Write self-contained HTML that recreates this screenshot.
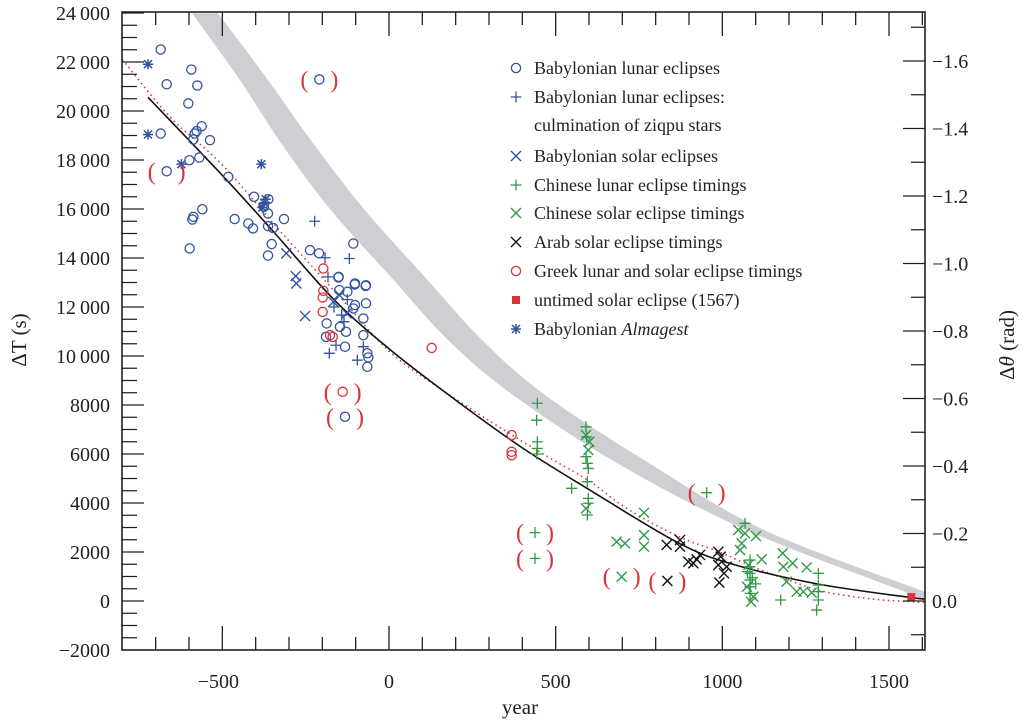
<!DOCTYPE html>
<html><head><meta charset="utf-8"><style>
html,body{margin:0;padding:0;background:#fff;width:1024px;height:720px;overflow:hidden}
svg text{font-family:"Liberation Serif",serif;}
</style></head><body>
<svg id="chart" width="1024" height="720" xmlns="http://www.w3.org/2000/svg">
<defs><clipPath id="clip"><rect x="122" y="12" width="803" height="638"/></clipPath></defs>
<g id="band" clip-path="url(#clip)"></g>
<g id="curves" clip-path="url(#clip)"></g>
<g id="marks"></g>
<g id="axes"></g>
<g id="legend"></g>
</svg>
<script>
// ---- data ----
const babLunarYears=[-685,-593,-667,-575,-602,-562,-577,-583,-685,-537,-587,-599,-569,-482,-405,-362,-375,-363,-560,-587,-590,-463,-422,-408,-363,-348,-315,-598,-352,-363,-237,-210,-107,-151,-103,-70,-152,-102,-69,-149,-125,-102,-69,-107,-77,-187,-147,-129,-189,-77,-132,-65,-62,-65];
const babLunarValues=[22510,21690,21090,21040,20310,19380,19180,19080,19080,18810,18840,17990,18100,17310,16500,16400,16090,15820,15990,15680,15570,15590,15410,15210,15300,15230,15590,14390,14570,14100,14320,14190,14590,13230,12920,12860,13210,12960,12890,12690,12620,12080,12150,11940,11530,11330,11190,10990,10780,10850,10380,10110,9940,9560];
const ziqpuYears=[-223,-119,-192,-183,-179,-159,-95,-77,-142,-125,-135,-165];
const ziqpuValues=[15500,13980,14010,13230,10110,10440,9830,10380,11670,12300,11400,12000];
const babSolarYears=[-308,-280,-278,-252,-167,-127,-150];
const babSolarValues=[14190,13260,12960,11630,12210,11740,12500];
const almagestYears=[-723,-723,-623,-383,-375,-380,-370];
const almagestValues=[21910,19040,17830,17830,16250,16060,16400];
const greekYears=[-197,-197,-199,-199,-177,-169,128,368,368,368];
const greekValues=[13570,12660,12390,11800,10850,10780,10330,6770,6090,5950];
const chLunarYears=[445,443,445,445,443,591,593,591,595,598,595,548,598,598,595,1068,1288,1288,1288,1288,1283,1175,1083,1083,1083,1083,1083,1083,1090,1100,1075];
const chLunarValues=[8070,7380,6500,6230,6000,7110,6700,5890,5620,5410,4870,4600,4190,3990,3510,3170,1130,650,380,40,-370,40,1670,1400,1130,860,580,310,950,700,1200];
const chSolarYears=[591,601,598,591,765,683,708,765,765,1048,1068,1101,1058,1053,1118,1078,1181,1183,1211,1253,1193,1223,1243,1268,1093,1086,1074];
const chSolarValues=[6770,6500,6160,3780,3600,2420,2350,2690,2220,2900,2760,2650,2350,2080,1700,1470,1950,1400,1540,1370,790,380,380,340,180,-30,580];
const arabYears=[833,873,873,898,923,933,913,988,995,988,1013,1005,991];
const arabValues=[2290,2490,2220,1600,1700,1880,1540,2010,1810,1470,1400,1130,750];
const untimedYears=[1567];
const untimedValues=[160];
const bracketTypes=["bcirc","bcirc","rcirc","bcirc","gplus","gplus","gplus","gcross","kcross"];
const bracketYears=[-209,-667,-139,-132,953,438,438,698,835];
const bracketValues=[21290,17540,8540,7520,4420,2790,1740,990,820];
const fitYears=[-723,-495,-345,-165,6,200,400,594,864,1032,1284,1572,1610];
const fitValues=[20560,17300,15050,12300,10230,8200,6250,4600,2400,1500,700,130,100];
const dotYears=[-800,-657,-500,-330,-150,0,150,353,500,600,700,800,900,983,1100,1200,1300,1450,1572,1610];
const dotValues=[22100,19760,17800,15150,12450,10200,8700,6910,5700,4900,3900,3100,2450,2050,1350,850,400,80,-30,-60];
const bandLowYears=[-591,-453,-324,-174,6,186,381,684,1071,1533,1608];
const bandLowValues=[23990,21380,18690,15950,13220,10530,8320,5630,2900,450,40];
const bandHighYears=[-513,-369,-228,-72,108,288,477,780,1125,1593,1608];
const bandHighValues=[23990,21380,18690,15950,13220,10530,8320,5630,2900,450,370];
const xTicks=[-500,0,500,1000,1500];
const xTickLabels=["\u2212500","0","500","1000","1500"];
const yTicks=[-2000,0,2000,4000,6000,8000,10000,12000,14000,16000,18000,20000,22000,24000];
const yTickLabels=["\u22122000","0","2000","4000","6000","8000","10\u2009000","12\u2009000","14\u2009000","16\u2009000","18\u2009000","20\u2009000","22\u2009000","24\u2009000"];
const rTicks=[0,-0.2,-0.4,-0.6,-0.8,-1.0,-1.2,-1.4,-1.6];
const rTickLabels=["0.0","\u22120.2","\u22120.4","\u22120.6","\u22120.8","\u22121.0","\u22121.2","\u22121.4","\u22121.6"];
// ---- scales ----
const X0=122,X1=925,Y0=12,Y1=650;
function sx(yr){return 389+yr/3;}
function sy(v){return 601-v*0.0245;}
function sr(r){return 601+r*337.5;}
const NS="http://www.w3.org/2000/svg";
function el(tag,attrs,parent){const e=document.createElementNS(NS,tag);for(const k in attrs)e.setAttribute(k,attrs[k]);parent.appendChild(e);return e;}
const BLUE="#3352a0",RED="#d8343a",GREEN="#2e9a46",BLACK="#111";
function marker(type,x,y,g){
  let e;
  if(type==="circ"||type==="bcirc"||type==="rcirc"){
    e=el("circle",{cx:x,cy:y,r:4.6,fill:"none",stroke:type==="rcirc"?RED:BLUE,"stroke-width":1.3},g);
  }else if(type==="plus"||type==="gplus"){
    const c=type==="gplus"?GREEN:BLUE;
    e=el("path",{d:`M${x-5.5} ${y}H${x+5.5}M${x} ${y-5.5}V${y+5.5}`,stroke:c,"stroke-width":1.3,fill:"none"},g);
  }else if(type==="cross"||type==="gcross"||type==="kcross"){
    const c=type==="gcross"?GREEN:(type==="kcross"?BLACK:BLUE);
    e=el("path",{d:`M${x-5} ${y-5}L${x+5} ${y+5}M${x-5} ${y+5}L${x+5} ${y-5}`,stroke:c,"stroke-width":1.4,fill:"none"},g);
  }else if(type==="star"){
    e=el("path",{d:`M${x-5} ${y}H${x+5}M${x} ${y-5}V${y+5}M${x-4} ${y-4}L${x+4} ${y+4}M${x-4} ${y+4}L${x+4} ${y-4}`,stroke:BLUE,"stroke-width":1.5,fill:"none"},g);
  }else if(type==="square"){
    e=el("rect",{x:x-4,y:y-4,width:8,height:8,fill:RED},g);
  }
  return e;
}
function pts(xs,ys){return xs.map((x,i)=>[sx(x),sy(ys[i])]);}
function smoothPts(p,start){
  let s=start?`M${p[0][0]} ${p[0][1]}`:`L${p[0][0]} ${p[0][1]}`;
  for(let i=0;i<p.length-1;i++){
    const a=p[Math.max(0,i-1)],b=p[i],c=p[i+1],e=p[Math.min(p.length-1,i+2)];
    s+=`C${b[0]+(c[0]-a[0])/6} ${b[1]+(c[1]-a[1])/6} ${c[0]-(e[0]-b[0])/6} ${c[1]-(e[1]-b[1])/6} ${c[0]} ${c[1]}`;
  }
  return s;
}
// band
const band=document.getElementById("band");
const lowP=pts(bandLowYears,bandLowValues);
const highP=pts(bandHighYears,bandHighValues).reverse();
const bp=el("path",{d:smoothPts(lowP,true)+smoothPts(highP,false)+"Z",fill:"#cdcfd3",stroke:"none"},band);


const curves=document.getElementById("curves");
const dc=el("path",{d:smoothPts(pts(dotYears,dotValues),true),fill:"none",stroke:RED,"stroke-width":1.6,"stroke-dasharray":"1.5 3.5"},curves);


const fc=el("path",{d:smoothPts(pts(fitYears,fitValues),true),fill:"none",stroke:BLACK,"stroke-width":1.6},curves);


// points
const marks=document.getElementById("marks");
function series(xs,ys,type,name){
  const g=el("g",{},marks);
  
  
  xs.forEach((yr,i)=>{const m=marker(type,sx(yr),sy(ys[i]),g);
    
    });
}
series(babLunarYears,babLunarValues,"circ","babylonian-lunar");
series(ziqpuYears,ziqpuValues,"plus","babylonian-ziqpu");
series(babSolarYears,babSolarValues,"cross","babylonian-solar");
series(almagestYears,almagestValues,"star","babylonian-almagest");
series(greekYears,greekValues,"rcirc","greek-eclipses");
series(chLunarYears,chLunarValues,"gplus","chinese-lunar");
series(chSolarYears,chSolarValues,"gcross","chinese-solar");
series(arabYears,arabValues,"kcross","arab-solar");
series(untimedYears,untimedValues,"square","untimed-eclipse");
const bg=el("g",{},marks);


bracketTypes.forEach((t,i)=>{
  const x=sx(bracketYears[i]),y=sy(bracketValues[i]);
  const m=marker(t,x,y,bg);
  
  
  const l=el("text",{x:x-15,y:y+8,"font-size":24,fill:RED,"text-anchor":"middle"},bg);l.textContent="(";
  
  
  const r=el("text",{x:x+15,y:y+8,"font-size":24,fill:RED,"text-anchor":"middle"},bg);r.textContent=")";
  
  
});
// axes
const ax=document.getElementById("axes");
const frame=el("rect",{x:X0,y:Y0,width:X1-X0,height:Y1-Y0,fill:"none",stroke:"#222","stroke-width":1.6},ax);


let td="";
for(let yr=-800;yr<=1600;yr+=100){const x=sx(yr);if(x<X0+1||x>X1-1)continue;const L=(yr%500===0)?24:13;td+=`M${x} ${Y1}V${Y1-L}M${x} ${Y0}V${Y0+L}`;}
for(let v=-2000;v<=24000;v+=500){const y=sy(v);if(y<Y0+1||y>Y1-1)continue;const L=(v%2000===0)?22:15;td+=`M${X0} ${y}H${X0+L}`;}
for(let k=-17;k<=1;k++){const y=sr(k/10);if(y<Y0+1||y>Y1-1)continue;const L=(k%2===0)?22:14;td+=`M${X1} ${y}H${X1-L}`;}
const tk=el("path",{d:td,stroke:"#222","stroke-width":1.3,fill:"none"},ax);


xTicks.forEach((v,i)=>{const t=el("text",{x:sx(v)-(v<0?4:0),y:688,"font-size":20,"text-anchor":"middle",fill:"#222"},ax);t.textContent=xTickLabels[i];
  
  });
yTicks.forEach((v,i)=>{const t=el("text",{x:110,y:sy(v)+7,"font-size":20,"text-anchor":"end",fill:"#222"},ax);t.textContent=yTickLabels[i];
  
  });
rTicks.forEach((v,i)=>{const t=el("text",{x:932,y:sr(v)+7,"font-size":20,"text-anchor":"start",fill:"#222"},ax);t.textContent=rTickLabels[i];
  
  });
const xt=el("text",{x:520,y:714,"font-size":21,"text-anchor":"middle",fill:"#222"},ax);xt.textContent="year";


const yt=el("text",{x:0,y:0,"font-size":21,"text-anchor":"middle",fill:"#222",transform:"translate(26 340) rotate(-90)"},ax);yt.textContent="\u0394T (s)";


const rt=el("text",{x:0,y:0,"font-size":21,"text-anchor":"middle",fill:"#222",transform:"translate(1014 345) rotate(-90)"},ax);
rt.innerHTML='\u0394<tspan font-style="italic">\u03b8</tspan> (rad)';


// legend
const lg=document.getElementById("legend");
const legTypes=["circ","plus",null,"cross","gplus","gcross","kcross","rcirc","square","star"];
const legLabels=["Babylonian lunar eclipses","Babylonian lunar eclipses:","culmination of ziqpu stars","Babylonian solar eclipses","Chinese lunar eclipse timings","Chinese solar eclipse timings","Arab solar eclipse timings","Greek lunar and solar eclipse timings","untimed solar eclipse (1567)","Babylonian "];
const legRows=[68,97,125,156,185,213,242,271,300,329];
legLabels.forEach((s,i)=>{
  const y=legRows[i];
  if(legTypes[i]){const m=marker(legTypes[i],516,y,lg);
    
    }
  const t=el("text",{x:534,y:y+6,"font-size":18,fill:"#222"},lg);
  t.textContent=s;
  if(i===9){const ts=el("tspan",{"font-style":"italic"},t);ts.textContent="Almagest";}
  
  
});
</script>
</body></html>
